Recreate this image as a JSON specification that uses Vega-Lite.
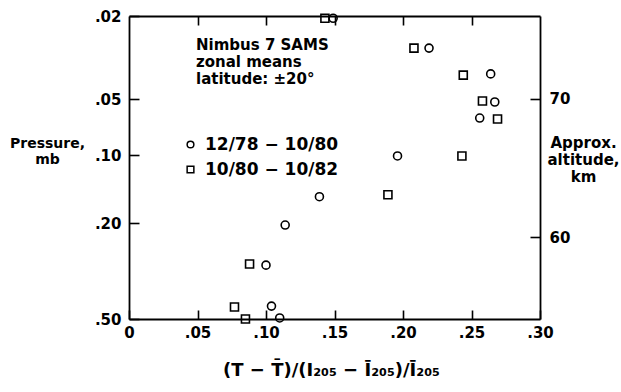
{
  "$schema": "https://vega.github.io/schema/vega-lite/v6.json",
  "width": 411,
  "height": 303,
  "autosize": {"type": "none"},
  "padding": {"left": 129, "top": 16, "right": 81, "bottom": 73},
  "background": "white",
  "config": {
    "view": {"stroke": null},
    "font": "DejaVu Sans",
    "axis": {
      "domainColor": "black",
      "domainWidth": 1.8,
      "tickColor": "black",
      "tickWidth": 1.6,
      "grid": false,
      "labelFont": "DejaVu Sans",
      "labelFontWeight": "bold",
      "labelFontSize": 15,
      "labelColor": "black",
      "labelFlush": false,
      "labelOverlap": false,
      "titleFont": "DejaVu Sans",
      "titleFontWeight": "bold",
      "titleColor": "black"
    },
    "legend": {
      "labelFont": "DejaVu Sans",
      "labelFontWeight": "bold",
      "labelColor": "black"
    }
  },
  "layer": [
    {
      "layer": [
        {
          "data": {
            "values": [
              {"ratio": 0.149, "pressure": 0.0205, "period": "12/78 − 10/80"},
              {"ratio": 0.219, "pressure": 0.0285, "period": "12/78 − 10/80"},
              {"ratio": 0.264, "pressure": 0.0379, "period": "12/78 − 10/80"},
              {"ratio": 0.267, "pressure": 0.0519, "period": "12/78 − 10/80"},
              {"ratio": 0.256, "pressure": 0.0633, "period": "12/78 − 10/80"},
              {"ratio": 0.196, "pressure": 0.101, "period": "12/78 − 10/80"},
              {"ratio": 0.139, "pressure": 0.153, "period": "12/78 − 10/80"},
              {"ratio": 0.114, "pressure": 0.204, "period": "12/78 − 10/80"},
              {"ratio": 0.100, "pressure": 0.299, "period": "12/78 − 10/80"},
              {"ratio": 0.104, "pressure": 0.442, "period": "12/78 − 10/80"},
              {"ratio": 0.110, "pressure": 0.495, "period": "12/78 − 10/80"},
              {"ratio": 0.143, "pressure": 0.0205, "period": "10/80 − 10/82"},
              {"ratio": 0.208, "pressure": 0.0285, "period": "10/80 − 10/82"},
              {"ratio": 0.244, "pressure": 0.0384, "period": "10/80 − 10/82"},
              {"ratio": 0.258, "pressure": 0.0513, "period": "10/80 − 10/82"},
              {"ratio": 0.269, "pressure": 0.064, "period": "10/80 − 10/82"},
              {"ratio": 0.243, "pressure": 0.101, "period": "10/80 − 10/82"},
              {"ratio": 0.189, "pressure": 0.150, "period": "10/80 − 10/82"},
              {"ratio": 0.088, "pressure": 0.296, "period": "10/80 − 10/82"},
              {"ratio": 0.077, "pressure": 0.446, "period": "10/80 − 10/82"},
              {"ratio": 0.085, "pressure": 0.50, "period": "10/80 − 10/82"}
            ]
          },
          "mark": {"type": "point", "filled": false, "color": "black", "size": 64, "strokeWidth": 1.6, "opacity": 1},
          "encoding": {
            "x": {
              "field": "ratio",
              "type": "quantitative",
              "scale": {"domain": [0, 0.3], "nice": false, "zero": false},
              "axis": {
                "orient": "bottom",
                "values": [0, 0.05, 0.1, 0.15, 0.2, 0.25, 0.3],
                "labelExpr": "datum.value == 0 ? '0' : substring(format(datum.value, '.2f'), 1)",
                "tickSize": -9,
                "labelPadding": 15,
                "title": "(T − T̄)/(I₂₀₅ − Ī₂₀₅)/Ī₂₀₅",
                "titleFontSize": 18,
                "titleX": 202,
                "titleY": 56,
                "titleAlign": "center",
                "titleBaseline": "alphabetic"
              }
            },
            "y": {
              "field": "pressure",
              "type": "quantitative",
              "scale": {"type": "log", "domain": [0.02, 0.05, 0.1, 0.2, 0.5], "range": [0, 83, 139, 207, 303], "nice": false},
              "axis": {
                "orient": "left",
                "values": [0.02, 0.05, 0.1, 0.2, 0.5],
                "labelExpr": "substring(format(datum.value, '.2f'), 1)",
                "tickSize": -10,
                "labelPadding": 18,
                "title": ["Pressure,", "mb"],
                "titleFontSize": 14,
                "titleLineHeight": 16,
                "titleAngle": 0,
                "titleX": -82,
                "titleY": 131,
                "titleAlign": "center",
                "titleBaseline": "alphabetic"
              }
            },
            "shape": {
              "field": "period",
              "type": "nominal",
              "scale": {"domain": ["12/78 − 10/80", "10/80 − 10/82"], "range": ["circle", "square"]},
              "legend": {
                "orient": "none",
                "legendX": 53,
                "legendY": 120,
                "title": null,
                "padding": 0,
                "labelFontSize": 17,
                "labelOffset": 6,
                "symbolSize": 45,
                "symbolStrokeWidth": 1.5,
                "symbolStrokeColor": "black",
                "rowPadding": 7
              }
            }
          }
        },
        {
          "data": {"values": [{"note": ["Nimbus 7 SAMS", "zonal means", "latitude: ±20°"]}]},
          "mark": {"type": "text", "align": "left", "baseline": "alphabetic", "fontSize": 15, "fontWeight": "bold", "font": "DejaVu Sans", "lineHeight": 17, "color": "black"},
          "encoding": {
            "x": {"datum": 0.0489, "type": "quantitative"},
            "y": {"datum": 0.0291, "type": "quantitative"},
            "text": {"field": "note"}
          }
        }
      ]
    },
    {
      "data": {"values": [{"alt": 60}, {"alt": 70}]},
      "mark": {"type": "point", "opacity": 0},
      "encoding": {
        "x": {
          "datum": 0.15,
          "type": "quantitative",
          "scale": {"domain": [0, 0.3], "nice": false, "zero": false},
          "axis": {
            "orient": "top",
            "values": [0.05, 0.1, 0.15, 0.2, 0.25],
            "labels": false,
            "tickSize": -9,
            "title": null
          }
        },
        "y": {
          "field": "alt",
          "type": "quantitative",
          "scale": {"domain": [54.06, 76.01], "nice": false, "zero": false},
          "axis": {
            "orient": "right",
            "values": [60, 70],
            "tickSize": -10,
            "labelPadding": 19,
            "title": ["Approx.", "altitude,", "km"],
            "titleFontSize": 15,
            "titleLineHeight": 17,
            "titleAngle": 0,
            "titleX": 43,
            "titleY": 131,
            "titleAlign": "center",
            "titleBaseline": "alphabetic"
          }
        }
      }
    }
  ],
  "resolve": {"scale": {"y": "independent"}, "axis": {"x": "independent", "y": "independent"}}
}
